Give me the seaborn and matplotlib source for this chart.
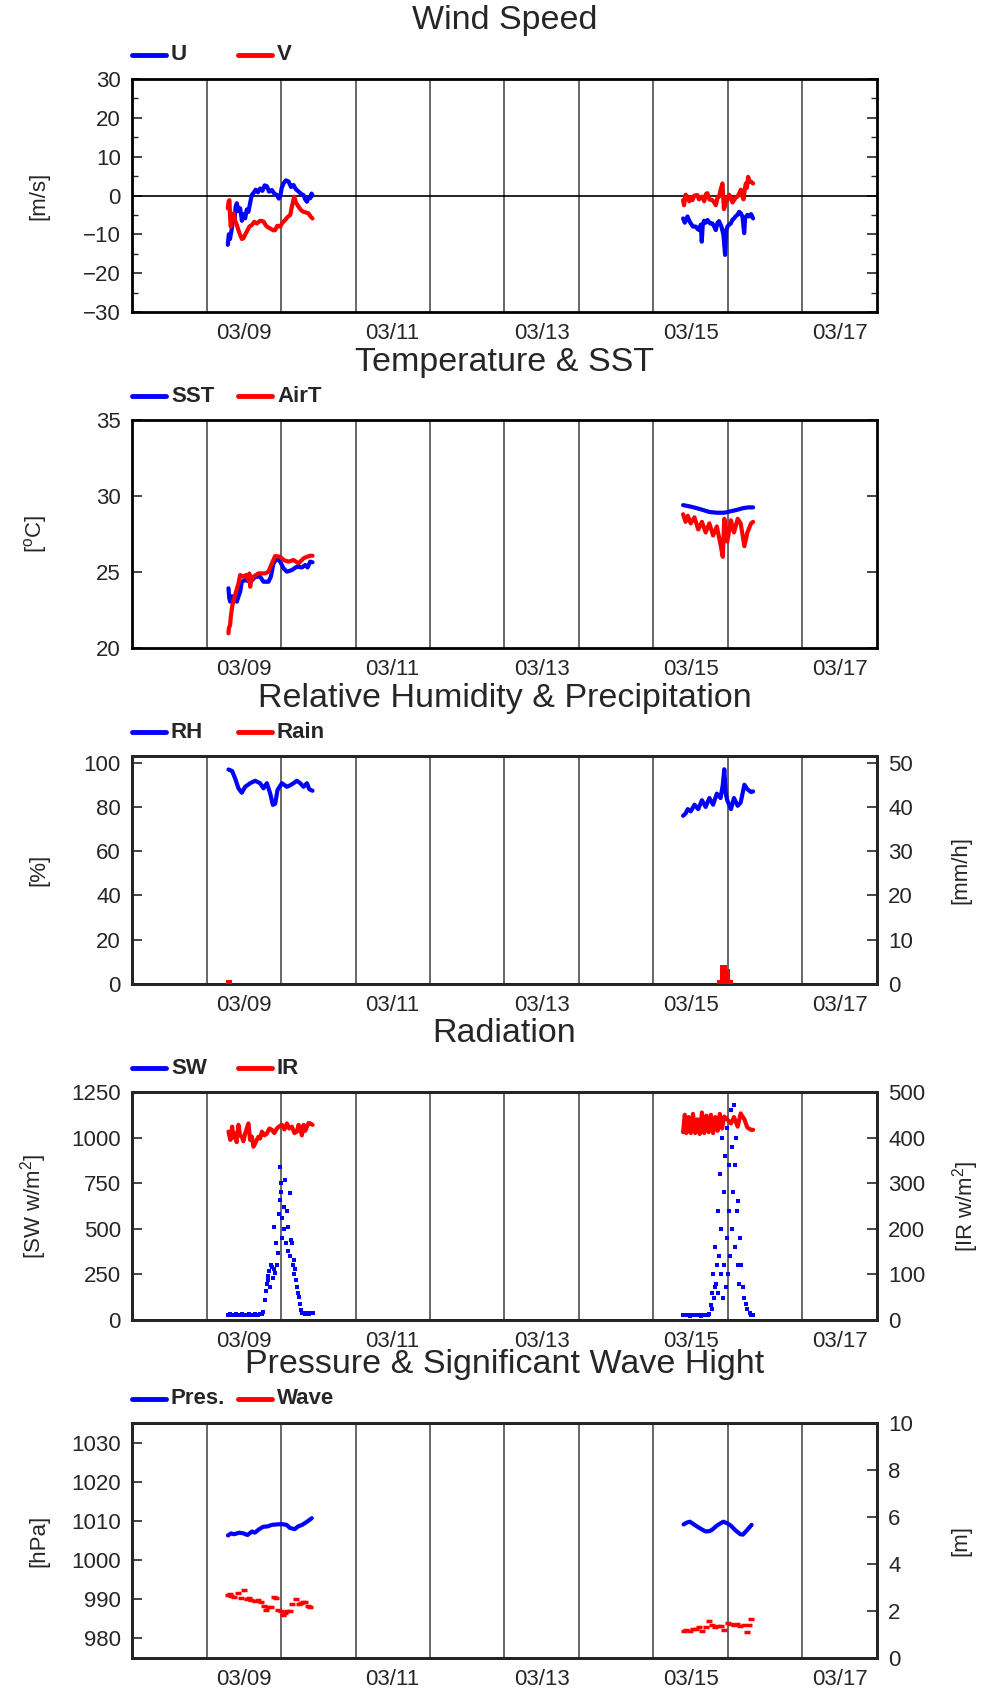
import matplotlib
matplotlib.use("Agg")
import matplotlib.pyplot as plt
import seaborn as sns
import pandas as pd
import numpy as np
from matplotlib.lines import Line2D
from matplotlib.ticker import MultipleLocator

# ---------------- data (time = day of March, fractional) ----------------
u1_t = [8.786, 8.800, 8.815, 8.840, 8.860, 8.875, 8.890, 8.907, 8.930, 8.952, 8.975, 8.995, 9.019, 9.040,
        9.063, 9.090, 9.110, 9.130, 9.160, 9.190, 9.220, 9.250, 9.280, 9.310, 9.340, 9.377, 9.410, 9.445,
        9.470, 9.489, 9.510, 9.534, 9.565, 9.601, 9.635, 9.668, 9.700, 9.736, 9.770, 9.803, 9.825, 9.848,
        9.870, 9.892, 9.910, 9.923]
u1_v = [-12.7, -10.0, -11.2, -8.5, -5.5, -6.8, -3.0, -2.0, -4.0, -3.3, -6.5, -4.8, -5.9, -3.6,
        -4.2, -1.5, 0.2, 0.6, 1.5, 0.8, 1.8, 1.2, 2.6, 2.4, 1.0, 1.4, 0.5, 0.1,
        -0.8, -0.3, 2.0, 3.1, 3.9, 3.6, 2.2, 2.7, 1.6, 1.0, 0.4, 0.1, -1.0, -1.6,
        -0.5, -0.7, 0.5, 0.0]
v1_t = [8.786, 8.797, 8.808, 8.815, 8.826, 8.840, 8.862, 8.885, 8.907, 8.930, 8.952, 8.975, 8.996, 9.020,
        9.041, 9.075, 9.109, 9.140, 9.176, 9.220, 9.265, 9.290, 9.310, 9.355, 9.400, 9.422, 9.450, 9.489,
        9.520, 9.556, 9.590, 9.624, 9.650, 9.677, 9.700, 9.736, 9.770, 9.803, 9.840, 9.870, 9.900, 9.923]
v1_v = [-3.3, -1.5, -1.2, -5.0, -8.0, -5.0, -4.6, -6.5, -7.6, -9.0, -10.2, -11.2, -11.0, -10.0,
        -9.3, -8.0, -7.6, -6.8, -7.2, -6.5, -6.7, -7.5, -8.0, -8.5, -9.0, -8.9, -7.8, -8.0,
        -7.0, -6.3, -5.5, -5.0, -2.5, -0.3, -1.8, -2.9, -3.8, -4.2, -4.4, -4.6, -5.5, -5.9]
u2_t = [14.897, 14.920, 14.956, 14.980, 15.000, 15.030, 15.067, 15.090, 15.112, 15.135, 15.148, 15.160,
        15.179, 15.200, 15.224, 15.260, 15.291, 15.315, 15.336, 15.360, 15.380, 15.412, 15.439, 15.461,
        15.475, 15.493, 15.515, 15.538, 15.560, 15.582, 15.605, 15.627, 15.650, 15.672, 15.695, 15.717,
        15.730, 15.760, 15.784, 15.810, 15.837]
u2_v = [-5.9, -7.0, -5.4, -6.5, -7.2, -8.0, -8.0, -8.6, -8.9, -7.5, -11.9, -7.8,
        -6.5, -7.0, -6.3, -7.2, -7.2, -8.0, -8.9, -7.0, -6.6, -8.0, -10.2, -15.3,
        -9.0, -8.0, -7.5, -7.2, -6.2, -5.9, -5.3, -5.0, -4.2, -4.6, -5.5, -9.7,
        -5.8, -5.0, -5.4, -4.8, -5.9]
v2_t = [14.897, 14.910, 14.930, 14.956, 14.980, 15.000, 15.023, 15.050, 15.090, 15.110, 15.135, 15.157,
        15.180, 15.205, 15.224, 15.250, 15.291, 15.315, 15.336, 15.360, 15.380, 15.405, 15.426, 15.445,
        15.457, 15.475, 15.493, 15.515, 15.538, 15.560, 15.582, 15.605, 15.627, 15.650, 15.672, 15.690,
        15.708, 15.725, 15.739, 15.755, 15.770, 15.790, 15.806, 15.837]
v2_v = [-1.2, -2.5, 0.2, -0.3, -1.5, -0.5, -1.2, 0.0, 0.1, -1.0, -0.4, -0.3,
        -1.5, 0.4, 0.6, -1.0, -1.2, -1.8, -2.5, -0.5, -0.3, 1.8, 3.1, -3.5,
        -2.9, -0.5, -1.2, 0.2, -0.3, -1.8, -1.2, -0.5, -0.3, 0.5, 1.5, 0.0,
        -1.0, 1.5, 3.1, 2.0, 4.8, 3.5, 3.6, 3.1]

sst1_t = [8.795, 8.805, 8.817, 8.840, 8.862, 8.884, 8.907, 8.930, 8.952, 8.974, 9.019, 9.063, 9.086, 9.120,
          9.153, 9.220, 9.265, 9.332, 9.364, 9.399, 9.445, 9.489, 9.534, 9.579, 9.646, 9.713, 9.781, 9.825,
          9.856, 9.892, 9.923]
sst1_v = [23.93, 23.3, 23.05, 23.4, 23.38, 23.2, 23.05, 23.4, 23.71, 24.36, 24.47, 24.4, 24.36, 24.5,
          24.69, 24.69, 24.36, 24.36, 24.69, 25.57, 25.9, 25.68, 25.24, 25.02, 25.13, 25.35, 25.3, 25.46,
          25.3, 25.68, 25.64]
air1_t = [8.795, 8.800, 8.817, 8.826, 8.848, 8.884, 8.929, 8.952, 8.996, 9.030, 9.063, 9.075, 9.086, 9.100,
          9.130, 9.198, 9.288, 9.332, 9.377, 9.422, 9.489, 9.534, 9.601, 9.668, 9.736, 9.803, 9.848, 9.892,
          9.923]
air1_v = [20.97, 21.3, 21.51, 22.06, 22.83, 23.49, 24.25, 24.8, 24.69, 24.8, 24.47, 24.9, 24.03, 24.5,
          24.69, 24.91, 24.91, 25.02, 25.57, 26.05, 26.0, 25.79, 25.68, 25.79, 25.57, 25.9, 26.0, 26.07,
          26.07]
sst2_t = [14.897, 14.95, 15.00, 15.08, 15.15, 15.25, 15.35, 15.45, 15.54, 15.63, 15.70, 15.77, 15.837]
sst2_v = [29.4, 29.35, 29.3, 29.2, 29.1, 28.95, 28.9, 28.9, 29.0, 29.1, 29.2, 29.25, 29.25]
air2_t = [14.897, 14.93, 14.96, 15.00, 15.05, 15.10, 15.15, 15.20, 15.25, 15.30, 15.35, 15.40, 15.43,
          15.45, 15.49, 15.54, 15.58, 15.63, 15.67, 15.72, 15.76, 15.81, 15.837]
air2_v = [28.8, 28.3, 28.7, 28.2, 28.6, 27.8, 28.3, 27.6, 28.2, 27.4, 28.0, 26.8, 26.0,
          28.5, 27.0, 28.4, 27.6, 28.5, 28.2, 26.7, 27.6, 28.2, 28.3]

rh1_t = [8.795, 8.844, 8.884, 8.929, 8.974, 9.019, 9.086, 9.153, 9.220, 9.265, 9.310, 9.355, 9.391, 9.422,
         9.453, 9.512, 9.579, 9.624, 9.668, 9.713, 9.758, 9.803, 9.848, 9.879, 9.923]
rh1_v = [96.9, 96.2, 92.9, 88.4, 86.4, 89.1, 90.7, 91.8, 90.7, 88.4, 90.7, 86.1, 80.9, 81.5,
         87.6, 90.7, 89.1, 89.8, 90.7, 91.8, 90.7, 89.1, 90.7, 88.0, 87.3]
rh2_t = [14.897, 14.93, 14.96, 15.00, 15.05, 15.10, 15.15, 15.20, 15.25, 15.30, 15.35, 15.40, 15.43,
         15.45, 15.47, 15.49, 15.54, 15.58, 15.63, 15.67, 15.72, 15.76, 15.81, 15.837]
rh2_v = [76, 77, 79, 78, 81, 79, 83, 80, 84, 81, 86, 84, 90,
         97, 86, 83, 79, 84, 80.5, 82, 90, 88, 86.7, 87]
rain_t = [8.78, 8.82, 15.38, 15.42, 15.46, 15.50, 15.54]
rain_v = [1.0, 0.8, 1.0, 4.3, 4.3, 3.5, 0.8]

sw1_t = [8.795, 8.82, 8.845, 8.87, 8.895, 8.92, 8.945, 8.97, 8.995, 9.02, 9.045, 9.07, 9.095, 9.12, 9.145,
         9.17, 9.195, 9.22, 9.245, 9.265, 9.288, 9.30, 9.31, 9.32, 9.332, 9.34, 9.35, 9.36, 9.377, 9.39,
         9.40, 9.41, 9.422, 9.43, 9.44, 9.457, 9.47, 9.480, 9.489, 9.50, 9.503, 9.51, 9.52, 9.534, 9.545,
         9.556, 9.565, 9.575, 9.588, 9.60, 9.615, 9.625, 9.633, 9.645, 9.655, 9.668, 9.68, 9.69, 9.704,
         9.715, 9.725, 9.736, 9.75, 9.767, 9.785, 9.803, 9.825, 9.848, 9.87, 9.895, 9.923]
sw1_v = [30, 31, 29, 30, 32, 30, 29, 31, 30, 30, 28, 31, 30, 29, 31,
         30, 30, 32, 35, 45, 110, 160, 200, 240, 219, 270, 180, 300, 292, 230,
         280, 510, 255, 420, 300, 366, 580, 658, 840, 700, 750, 450, 560, 621, 500,
         768, 420, 600, 512, 380, 695, 350, 439, 420, 300, 329, 250, 280, 219,
         180, 150, 128, 90, 55, 36, 36, 35, 36, 35, 36, 36]
sw2_t = [14.90, 14.93, 14.96, 14.99, 15.02, 15.05, 15.08, 15.11, 15.14, 15.17, 15.20, 15.23, 15.25,
         15.27, 15.28, 15.29, 15.30, 15.31, 15.32, 15.33, 15.34, 15.35, 15.36, 15.37, 15.38, 15.39, 15.40,
         15.41, 15.42, 15.43, 15.44, 15.45, 15.46, 15.47, 15.48, 15.49, 15.50, 15.51, 15.52, 15.53, 15.54,
         15.55, 15.56, 15.57, 15.58, 15.59, 15.60, 15.61, 15.62, 15.63, 15.64, 15.65, 15.66, 15.68, 15.70,
         15.72, 15.74, 15.76, 15.79, 15.81, 15.83]
sw2_v = [25, 26, 25, 24, 25, 26, 25, 25, 24, 26, 25, 28, 35,
         80, 150, 60, 250, 120, 180, 400, 200, 300, 600, 150, 350, 800, 250,
         500, 1000, 120, 700, 300, 900, 180, 450, 1050, 250, 600, 850, 350, 1150,
         500, 950, 700, 1180, 400, 850, 1000, 600, 300, 650, 200, 450, 300, 180,
         120, 90, 60, 40, 30, 25]
ir1_t = [8.795, 8.82, 8.844, 8.86, 8.884, 8.905, 8.929, 8.95, 8.974, 8.995, 9.019, 9.04, 9.063, 9.085,
         9.109, 9.13, 9.153, 9.175, 9.198, 9.22, 9.243, 9.28, 9.310, 9.345, 9.377, 9.41, 9.445, 9.48,
         9.512, 9.545, 9.579, 9.61, 9.646, 9.68, 9.713, 9.735, 9.758, 9.78, 9.803, 9.825, 9.848, 9.87,
         9.892, 9.923]
ir1_v = [413, 395, 424, 400, 409, 390, 428, 405, 402, 392, 409, 420, 431, 395,
         402, 380, 387, 395, 402, 398, 413, 405, 409, 420, 417, 410, 420, 425,
         428, 418, 431, 420, 424, 410, 413, 428, 420, 405, 428, 415, 424, 432,
         431, 428]
ir2_t = [14.897, 14.92, 14.94, 14.97, 15.00, 15.03, 15.06, 15.09, 15.12, 15.15, 15.18, 15.21, 15.24,
         15.27, 15.30, 15.33, 15.36, 15.39, 15.42, 15.45, 15.49, 15.54, 15.58, 15.63, 15.67, 15.72,
         15.76, 15.81, 15.837]
ir2_v = [412, 450, 410, 445, 410, 452, 410, 440, 408, 455, 410, 448, 412,
         450, 410, 445, 415, 452, 420, 446, 440, 431, 445, 424, 453, 440,
         422, 417, 417]

p1_t = [8.788, 8.83, 8.87, 8.94, 9.00, 9.05, 9.11, 9.15, 9.20, 9.26, 9.32, 9.38, 9.447, 9.50, 9.574,
        9.62, 9.684, 9.73, 9.785, 9.85, 9.913]
p1_v = [1006.3, 1006.8, 1006.6, 1007.0, 1006.8, 1006.4, 1007.3, 1007.0, 1007.8, 1008.5, 1008.6, 1009.0,
        1009.1, 1009.2, 1009.0, 1008.2, 1007.9, 1008.6, 1009.0, 1009.8, 1010.7]
p2_t = [14.903, 14.95, 14.988, 15.05, 15.116, 15.199, 15.25, 15.284, 15.35, 15.437, 15.49, 15.538, 15.60,
        15.665, 15.70, 15.749, 15.817]
p2_v = [1009.1, 1009.6, 1009.8, 1009.0, 1008.2, 1007.3, 1007.4, 1007.7, 1008.8, 1009.8, 1009.4, 1008.8,
        1007.6, 1006.6, 1006.5, 1007.5, 1009.0]
w1_t = [8.788, 8.81, 8.83, 8.872, 8.923, 8.96, 9.008, 9.04, 9.067, 9.10, 9.152, 9.19, 9.236, 9.27, 9.296,
        9.33, 9.363, 9.40, 9.430, 9.46, 9.499, 9.525, 9.550, 9.58, 9.617, 9.65, 9.702, 9.735, 9.769, 9.80,
        9.828, 9.86, 9.887]
w1_v = [2.69, 2.72, 2.62, 2.6, 2.75, 2.55, 2.9, 2.5, 2.54, 2.45, 2.42, 2.45, 2.39, 2.2, 2.05,
        2.15, 2.15, 2.6, 2.54, 2.05, 2.0, 1.85, 1.9, 2.0, 2.0, 2.3, 2.5, 2.3, 2.35, 2.4,
        2.4, 2.2, 2.15]
w2_t = [14.903, 14.94, 14.988, 15.03, 15.073, 15.11, 15.157, 15.20, 15.242, 15.28, 15.327, 15.37, 15.411,
        15.453, 15.496, 15.54, 15.581, 15.62, 15.665, 15.71, 15.750, 15.78, 15.809]
w2_v = [1.15, 1.2, 1.15, 1.25, 1.23, 1.3, 1.15, 1.3, 1.57, 1.4, 1.3, 1.35, 1.35,
        1.2, 1.5, 1.45, 1.4, 1.45, 1.38, 1.4, 1.1, 1.4, 1.64]

xtick_pos = [9, 11, 13, 15, 17]
xtick_lab = ["03/09", "03/11", "03/13", "03/15", "03/17"]
grid_pos = [8.5, 9.5, 10.5, 11.5, 12.5, 13.5, 14.5, 15.5, 16.5]
titles = ["Wind Speed", "Temperature & SST", "Relative Humidity & Precipitation", "Radiation",
          "Pressure & Significant Wave Hight"]
legend_labels = [("U", "V"), ("SST", "AirT"), ("RH", "Rain"), ("SW", "IR"), ("Pres.", "Wave")]


def seg_df(t1, v1, t2, v2):
    return pd.DataFrame({"t": t1 + t2, "v": v1 + v2, "seg": [1] * len(t1) + [2] * len(t2)})


# ---------------- style ----------------
sns.set_style("ticks")
plt.rcParams["font.family"] = ["Liberation Sans", "DejaVu Sans"]
plt.rcParams["mathtext.fontset"] = "custom"
plt.rcParams["mathtext.rm"] = "Liberation Sans"
plt.rcParams["mathtext.it"] = "Liberation Sans"
BLUE, RED = "#0000ff", "#ff0000"
TICK_FS = 16
LAB_FS = 16

W, H = 987, 1693
fig = plt.figure(figsize=(W / 100, H / 100), dpi=100)
L, R = 132, 877
panels = [(79, 312), (420, 648), (756, 984), (1092, 1320), (1423, 1658)]
axes = []
for top, bot in panels:
    ax = fig.add_axes([L / W, 1 - bot / H, (R - L) / W, (bot - top) / H])
    axes.append(ax)

LEFT_LAB_X = -0.111
RIGHT_LAB_X = 1.098


def style(ax, right_ticks=True):
    ax.set_xlim(7.5, 17.5)
    ax.set_xticks(xtick_pos)
    ax.set_xticklabels(xtick_lab)
    ax.set_xticks(grid_pos, minor=True)
    ax.grid(False)
    ax.grid(which="minor", axis="x", color="0.3", lw=1.2)
    ax.tick_params(axis="x", which="both", length=0, pad=8, labelsize=TICK_FS)
    ax.tick_params(axis="y", which="major", direction="in", length=7, width=1.2, pad=8,
                   labelsize=TICK_FS, right=right_ticks)
    ax.tick_params(axis="y", which="minor", direction="in", length=4, width=1.0, right=right_ticks)
    for s in ax.spines.values():
        s.set_visible(True)
        s.set_linewidth(2)
        s.set_color("black")


def style_twin(ax2, label, step, ylim):
    ax2.set_ylim(*ylim)
    ax2.yaxis.set_major_locator(MultipleLocator(step))
    ax2.tick_params(axis="y", direction="in", length=7, width=1.2, pad=8, labelsize=TICK_FS)
    ax2.set_ylabel(label, fontsize=LAB_FS)
    ax2.yaxis.set_label_coords(RIGHT_LAB_X, 0.5)
    ax2.set_xlabel("")
    ax2.set_xlim(7.5, 17.5)
    for s in ax2.spines.values():
        s.set_linewidth(2)


def finish_left(ax, label, step, ylim):
    ax.set_ylim(*ylim)
    ax.yaxis.set_major_locator(MultipleLocator(step))
    ax.set_xlabel("")
    ax.set_ylabel(label, fontsize=LAB_FS)
    ax.yaxis.set_label_coords(LEFT_LAB_X, 0.5)
    ax.set_xlim(7.5, 17.5)


def legend(top, labels):
    y = 1 - (top - 24) / H
    for (x0, x1, xt), lab, col in zip([(132, 166, 171), (238, 272, 277)], labels, [BLUE, RED]):
        fig.add_artist(Line2D([x0 / W, x1 / W], [y, y], color=col, lw=3.5, transform=fig.transFigure))
        fig.text(xt / W, y, lab, ha="left", va="center", fontsize=16, fontweight="bold")


def title(top, text):
    fig.text((L + R) / 2 / W, 1 - (top - 58) / H, text, ha="center", va="center", fontsize=24.5)


def lines(ax, t1, v1, t2, v2, color, z):
    sns.lineplot(data=seg_df(t1, v1, t2, v2), x="t", y="v", units="seg", estimator=None,
                 sort=False, color=color, lw=3, ax=ax, legend=False, zorder=z)


# ---- Panel 1: wind ----
ax = axes[0]
style(ax)
ax.axhline(0, color="black", lw=1.2, zorder=2)
lines(ax, u1_t, u1_v, u2_t, u2_v, BLUE, 3)
lines(ax, v1_t, v1_v, v2_t, v2_v, RED, 4)
finish_left(ax, "[m/s]", 10, (-30, 30))
ax.yaxis.set_minor_locator(MultipleLocator(5))

# ---- Panel 2: temperature ----
ax = axes[1]
style(ax)
lines(ax, sst1_t, sst1_v, sst2_t, sst2_v, BLUE, 3)
lines(ax, air1_t, air1_v, air2_t, air2_v, RED, 4)
finish_left(ax, "[$^{\\rm o}$C]", 5, (20, 35))

# ---- Panel 3: RH & rain ----
ax = axes[2]
style(ax, right_ticks=False)
lines(ax, rh1_t, rh1_v, rh2_t, rh2_v, BLUE, 3)
finish_left(ax, "[%]", 20, (0, 103))
ax2 = ax.twinx()
ax2.bar(rain_t, rain_v, width=0.042, color=RED, linewidth=0, zorder=3)
style_twin(ax2, "[mm/h]", 10, (0, 51.5))

# ---- Panel 4: radiation ----
ax = axes[3]
style(ax, right_ticks=False)
sns.scatterplot(data=seg_df(sw1_t, sw1_v, sw2_t, sw2_v), x="t", y="v", color=BLUE, s=10, marker="s",
                linewidth=0, ax=ax, legend=False, zorder=3)
finish_left(ax, "[SW w/m$^2$]", 250, (0, 1250))
ax2 = ax.twinx()
lines(ax2, ir1_t, ir1_v, ir2_t, ir2_v, RED, 3)
style_twin(ax2, "[IR w/m$^2$]", 100, (0, 500))

# ---- Panel 5: pressure & wave ----
ax = axes[4]
style(ax, right_ticks=False)
lines(ax, p1_t, p1_v, p2_t, p2_v, BLUE, 3)
finish_left(ax, "[hPa]", 10, (975, 1035))
ax2 = ax.twinx()
sns.scatterplot(data=seg_df(w1_t, w1_v, w2_t, w2_v), x="t", y="v", color=RED, s=20, marker="_",
                linewidth=2.5, ax=ax2, legend=False, zorder=3)
style_twin(ax2, "[m]", 2, (0, 10))

for (top, bot), t, lab in zip(panels, titles, legend_labels):
    title(top, t)
    legend(top, lab)

fig.savefig("out.png", dpi=100)
